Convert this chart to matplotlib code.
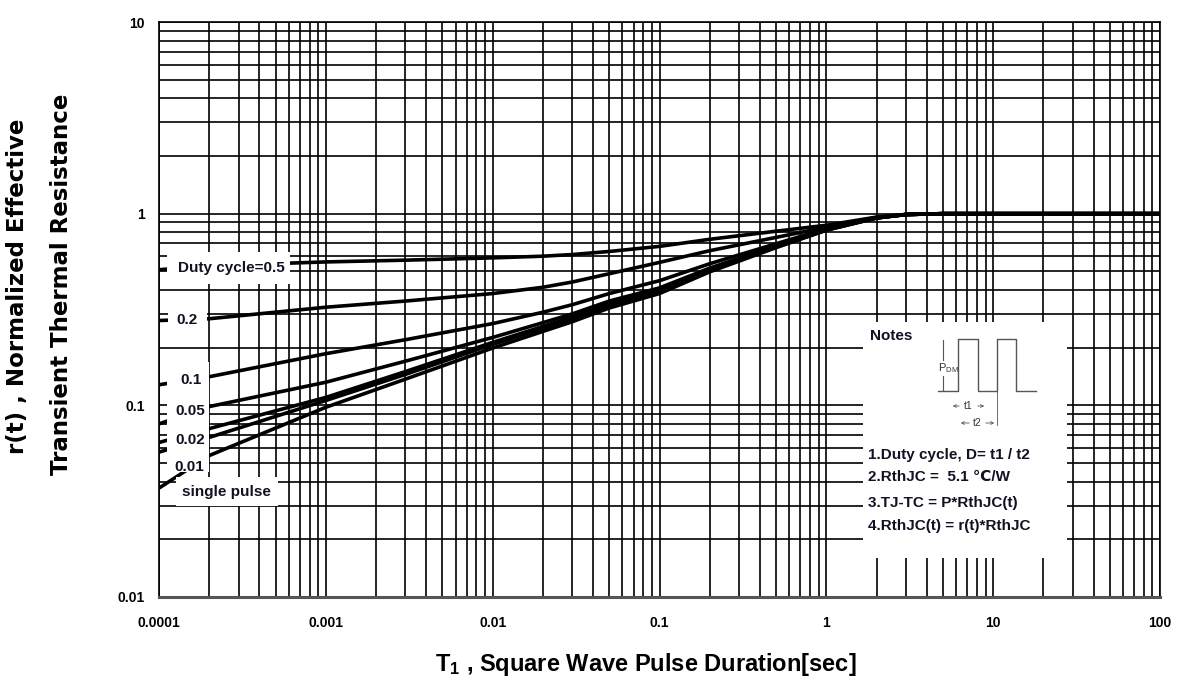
import matplotlib
matplotlib.use("Agg")
import matplotlib.pyplot as plt
import numpy as np
from matplotlib.patches import Rectangle

plt.rcParams['font.family'] = ['Liberation Sans Narrow', 'Liberation Sans', 'DejaVu Sans']
plt.rcParams['font.weight'] = 'bold'

W, H = 1177, 684

# pulse duration [sec]
t = [1e-4, 2e-4, 1e-3, 3e-3, 1e-2, 2e-2, 3e-2, 5e-2, 0.1, 0.2, 0.5, 1, 2, 3, 5, 10, 100]

# r(t) for each duty cycle
r_d05 = [0.51, 0.535, 0.56, 0.572, 0.588, 0.60, 0.612, 0.635, 0.675, 0.735, 0.81, 0.87, 0.96, 0.99, 1.0, 1.0, 1.0]
r_d02 = [0.277, 0.283, 0.325, 0.35, 0.383, 0.413, 0.44, 0.486, 0.557, 0.641, 0.752, 0.85, 0.955, 0.99, 1.0, 1.0, 1.0]
r_d01 = [0.128, 0.141, 0.186, 0.22, 0.267, 0.306, 0.335, 0.383, 0.447, 0.548, 0.697, 0.835, 0.95, 0.99, 1.0, 1.0, 1.0]
r_d005 = [0.080, 0.0985, 0.132, 0.17, 0.226, 0.27, 0.30, 0.35, 0.41, 0.52, 0.68, 0.83, 0.95, 0.99, 1.0, 1.0, 1.0]
r_d002 = [0.064, 0.0756, 0.110, 0.15, 0.213, 0.258, 0.29, 0.34, 0.40, 0.51, 0.675, 0.825, 0.95, 0.99, 1.0, 1.0, 1.0]
r_d001 = [0.057, 0.068, 0.106, 0.145, 0.208, 0.252, 0.283, 0.333, 0.393, 0.505, 0.67, 0.82, 0.95, 0.99, 1.0, 1.0, 1.0]
r_single = [0.037, 0.0547, 0.0977, 0.137, 0.199, 0.243, 0.273, 0.322, 0.383, 0.497, 0.665, 0.82, 0.95, 0.99, 1.0, 1.0, 1.0]

curves = [r_d05, r_d02, r_d01, r_d005, r_d002, r_d001, r_single]

x_ticks = [1e-4, 1e-3, 1e-2, 1e-1, 1, 10, 100]
x_tick_labels = ["0.0001", "0.001", "0.01", "0.1", "1", "10", "100"]
y_ticks = [0.01, 0.1, 1, 10]
y_tick_labels = ["0.01", "0.1", "1", "10"]

# curve labels: text, pixel position
curve_labels = [("Duty cycle=0.5", 231, 268), ("0.2", 187, 320), ("0.1", 191, 380),
                ("0.05", 190, 411), ("0.02", 190, 440), ("0.01", 189, 467),
                ("single pulse", 226, 492)]

notes = ["1.Duty cycle, D= t1 / t2", "2.RthJC =  5.1 \u2103/W",
         "3.TJ-TC = P*RthJC(t)", "4.RthJC(t) = r(t)*RthJC"]

fig = plt.figure(figsize=(W / 100, H / 100), dpi=100)
ax = fig.add_axes([159 / W, 1 - 597 / H, (1160 - 159) / W, (597 - 22) / H])
ax.set_xscale('log')
ax.set_yscale('log')
ax.set_xlim(1e-4, 100)
ax.set_ylim(0.01, 10)

ax.grid(True, which='both', color='black', linewidth=1.2)
ax.set_axisbelow(True)
for s in ax.spines.values():
    s.set_color('black')
    s.set_linewidth(1.2)
ax.spines['bottom'].set_linewidth(2.2)
ax.spines['bottom'].set_color('#555555')

for r in curves:
    ax.plot(t, r, color='black', linewidth=2.6, solid_capstyle='butt', zorder=3)

ax.set_xticks(x_ticks)
ax.set_xticklabels(x_tick_labels)
ax.set_yticks(y_ticks)
ax.set_yticklabels(y_tick_labels)
ax.tick_params(which='both', length=0, labelsize=10)
ax.tick_params(axis='x', pad=14)
ax.tick_params(axis='y', pad=10)

fig.text(18 / W, 1 - 286 / H, "r(t) , Normalized Effective", rotation=90,
         ha='center', va='center', fontsize=16.5, family=['DejaVu Sans'])
fig.text(62 / W, 1 - 284 / H, "Transient Thermal Resistance", rotation=90,
         ha='center', va='center', fontsize=16.5, family=['DejaVu Sans'])
fig.text(646 / W, 1 - 665 / H, r"$\mathregular{T_1}$ , Square Wave Pulse Duration[sec]",
         ha='center', va='center', fontsize=17)

# overlay in pixel coordinates for label boxes and notes
ov = fig.add_axes([0, 0, 1, 1], zorder=5)
ov.set_xlim(0, W)
ov.set_ylim(H, 0)
ov.axis('off')
ov.patch.set_alpha(0)

for (x0, y0, x1, y1) in [(167, 252, 290, 284), (168, 303, 207, 334),
                         (167, 362, 209, 472), (176, 477, 278, 506)]:
    ov.add_patch(Rectangle((x0, y0), x1 - x0, y1 - y0, fc='white', ec='none'))

for txt, px, py in curve_labels:
    ov.text(px, py, txt, ha='center', va='center', fontsize=11, color='#111122')

# notes box
ov.add_patch(Rectangle((863, 322), 1067 - 863, 558 - 322, fc='white', ec='none'))
ov.text(870, 336, "Notes", ha='left', va='center', fontsize=11, color='#111122')
gray = '#555555'
px_w = [938, 958, 958, 978, 978, 997, 997, 1016, 1016, 1036]
py_w = [391, 391, 339, 339, 391, 391, 339, 339, 391, 391]
ov.plot(px_w, py_w, color=gray, linewidth=1.0)
ov.plot([943, 943], [340, 360], color=gray, linewidth=0.8)
ov.plot([943, 943], [376, 390], color=gray, linewidth=0.8)
ov.text(948, 368, r"P$_{\mathregular{DM}}$", ha='center', va='center', fontsize=8,
        color='#333333', fontweight='normal')
ov.annotate("", xy=(950, 406), xytext=(962, 406),
            arrowprops=dict(arrowstyle='->', color=gray, lw=0.6, mutation_scale=5))
ov.annotate("", xy=(987, 406), xytext=(975, 406),
            arrowprops=dict(arrowstyle='->', color=gray, lw=0.6, mutation_scale=5))
ov.text(968, 406, "t1", ha='center', va='center', fontsize=7.5, color='#333333',
        fontweight='normal')
ov.annotate("", xy=(958, 423), xytext=(972, 423),
            arrowprops=dict(arrowstyle='->', color=gray, lw=0.6, mutation_scale=5))
ov.annotate("", xy=(997, 423), xytext=(983, 423),
            arrowprops=dict(arrowstyle='->', color=gray, lw=0.6, mutation_scale=5))
ov.text(977, 423, "t2", ha='center', va='center', fontsize=7.5, color='#333333',
        fontweight='normal')
ov.plot([997, 997], [391, 425], color=gray, linewidth=0.6)

for i, line in enumerate(notes):
    ov.text(868, [455, 477, 503, 526][i], line, ha='left', va='center', fontsize=11,
            color='#111122')

fig.savefig("out.png", dpi=100, facecolor='white')
